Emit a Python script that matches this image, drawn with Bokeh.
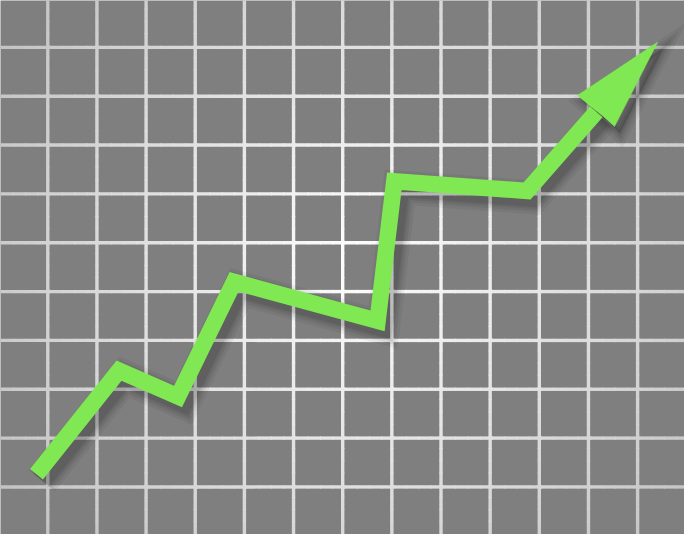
import numpy as np
from bokeh.plotting import figure
from bokeh.models import Range1d
from bokeh.embed import file_html
from bokeh.resources import INLINE

# ---- data (grid units: one cell = 1) ----
line_x = [-0.23, 1.45, 2.65, 3.79, 6.71, 7.05, 9.75, 11.16]
line_y = [0.26, 2.38, 1.85, 4.20, 3.40, 6.26, 6.06, 7.68]
head_x = [11.02, 10.78, 12.41, 11.53, 11.30]
head_y = [7.81, 8.02, 9.11, 7.38, 7.59]
grid_cols = list(range(0, 13))
grid_rows = list(range(0, 10))

X0, X1 = -0.962, 12.954
Y0, Y1 = -0.974, 9.960

W, H = 684, 534
p = figure(width=W, height=H, output_backend="svg", toolbar_location=None,
           x_range=Range1d(X0, X1), y_range=Range1d(Y0, Y1),
           x_axis_location=None, y_axis_location=None, min_border=0)
p.grid.visible = False
p.outline_line_color = None
p.background_fill_color = "#7f7f7f"
p.border_fill_color = "#7f7f7f"

# grid with radial brightness
cx, cy = 6.3, 4.6
def col(u, v):
    d = np.hypot((u - cx) * 1.0, (v - cy) * 1.0)
    c = int(round(255 - 60 * min(1.0, d / 8.5)))
    return "#%02x%02x%02x" % (c, c, c)

sx0, sy0, sx1, sy1, sc = [], [], [], [], []
step = 0.25
for k in grid_cols:
    vs = np.arange(Y0, Y1 + step, step)
    for a, b in zip(vs[:-1], vs[1:]):
        sx0.append(k); sx1.append(k); sy0.append(a); sy1.append(b + 0.02)
        sc.append(col(k, (a + b) / 2))
for k in grid_rows:
    us = np.arange(X0, X1 + step, step)
    for a, b in zip(us[:-1], us[1:]):
        sy0.append(k); sy1.append(k); sx0.append(a); sx1.append(b + 0.02)
        sc.append(col((a + b) / 2, k))
p.segment(sx0, sy0, sx1, sy1, line_color=sc, line_width=3.4, line_cap="butt")

# shadow
dx, dy = 0.11, -0.13
shx = [x + dx for x in line_x]
shy = [y + dy for y in line_y]
hsx = [x + dx for x in head_x]
hsy = [y + dy for y in head_y]
for w, a in [(34, 0.05), (28, 0.06), (23, 0.07), (19, 0.08)]:
    p.line(shx, shy, line_color="black", line_alpha=a, line_width=w,
           line_join="miter", line_cap="butt")
    p.patch(hsx, hsy, fill_color="black", fill_alpha=a * 0.6,
            line_color="black", line_alpha=a, line_width=w - 16, line_join="miter")

# green arrow
green = "#80e853"
p.line(line_x, line_y, line_color=green, line_width=16.5,
       line_join="miter", line_cap="butt")
p.patch(head_x, head_y, fill_color=green, line_color=green, line_width=0.5)

open("out.html", "w").write(file_html(p, INLINE))
